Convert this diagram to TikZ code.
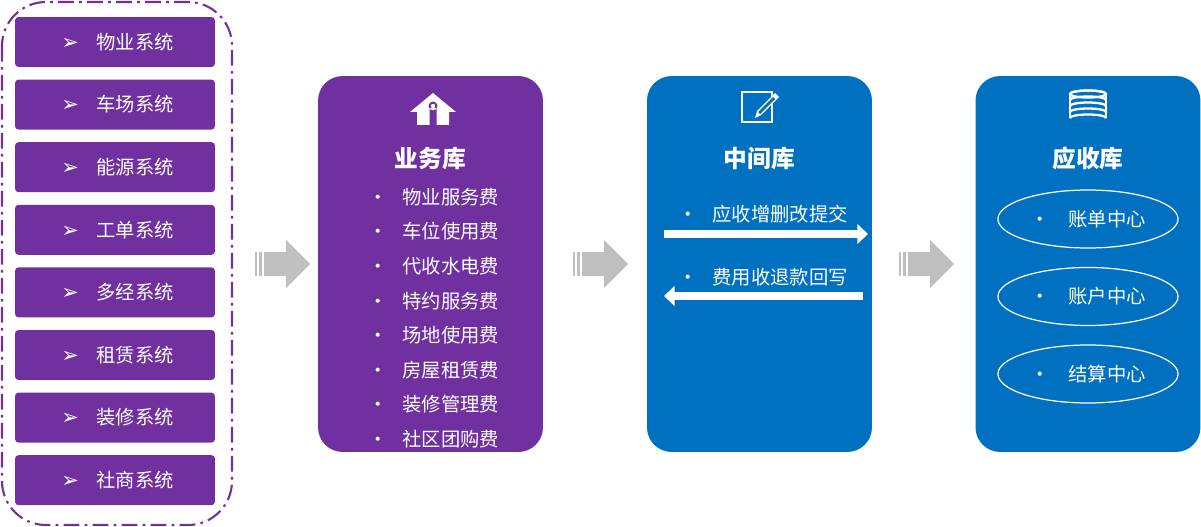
\documentclass[tikz,border=0pt]{standalone}
\usepackage{fontspec}
\setmainfont{Noto Sans CJK SC}
\newfontfamily\symf{DejaVu Sans}
\usetikzlibrary{positioning,shapes.geometric,arrows.meta}
\definecolor{purp}{HTML}{7030A0}
\definecolor{blu}{HTML}{0070C0}
\definecolor{gry}{HTML}{BFBFBF}
\tikzset{
  sys/.style={fill=purp,rounded corners=2pt,minimum width=4cm,minimum height=1cm,text=white,font=\fontsize{11}{13}\selectfont},
  db/.style={rounded corners=14pt,minimum width=4.5cm,minimum height=7.52cm},
  item/.style={text=white,font=\fontsize{11}{13}\selectfont,anchor=west},
  ttl/.style={text=white,font=\fontsize{13.5}{15}\selectfont\bfseries},
  ctr/.style={ellipse,draw=white,line width=0.7pt,minimum width=3.56cm,minimum height=1.16cm,text=white,font=\fontsize{11}{13}\selectfont},
  flow/.style={white,line width=4pt,-{Triangle[length=6pt,width=11pt]}}
}
\newcommand{\fatarrow}[1]{%
  \fill[gry] (#1)++(-55,-12) rectangle ++(2,24);
  \fill[gry] (#1)++(-51,-12) rectangle ++(3,24);
  \fill[gry] (#1)++(-46,-12) -- ++(22,0) -- ++(0,-12) -- ++(24,24) -- ++(-24,24) -- ++(0,-12) -- ++(-22,0) -- cycle;}
\begin{document}
\begin{tikzpicture}[x=0.02cm,y=-0.02cm]
  \useasboundingbox (0,0) rectangle (1201,527);
  % source systems
  \draw[purp,line width=1.2pt,dash pattern=on 9pt off 3pt on 1.5pt off 3pt,rounded corners=25pt] (2,2) rectangle (232,525);
  \foreach \n/\t [count=\i from 0] in {a/物业系统,b/车场系统,c/能源系统,d/工单系统,e/多经系统,f/租赁系统,g/装修系统,h/社商系统}
    \node[sys] (\n) at (115,{42+62.6*\i}) {\hspace{0.1cm}{\symf\fontsize{12}{13}\selectfont ➢}\hspace{0.35cm}\t};
  % flow arrows
  \coordinate (p1) at (310,264);
  \coordinate (p2) at (628,264);
  \coordinate (p3) at (954,264);
  \fatarrow{p1} \fatarrow{p2} \fatarrow{p3}
  % business db
  \node[db,fill=purp] (biz) at (430.5,264) {};
  \fill[white] (433,93) -- (410,112) -- (417,112) -- (417,125) -- (449,125) -- (449,112) -- (456,112) -- cycle;
  \fill[purp] (433,106) circle (4.5) (429.5,108) rectangle (436.5,125);
  \fill[white] (433,106) circle (2.2);
  \node[ttl] (bt) at (430.5,158) {业务库};
  \foreach \t [count=\i from 0] in {物业服务费,车位使用费,代收水电费,特约服务费,场地使用费,房屋租赁费,装修管理费,社区团购费}
    \node[item] (b\i) at (362,{197+34.6*\i}) {•\hspace{0.3cm}\t};
  % middle db
  \node[db,fill=blu] (mid) at (759.5,264) {};
  \draw[white,line width=1.6pt] (742,92) rectangle (772,122);
  \fill[white] (775,93) -- (779,97) -- (761,115) -- (755,118) -- (757,111) -- cycle;
  \fill[blu] (773,97) -- (775,99) -- (760,114) -- (758,112) -- cycle;
  \node[ttl] (mt) at (759.5,158) {中间库};
  \node[item] (m0) at (672,214) {•\hspace{0.3cm}应收增删改提交};
  \node[item] (m1) at (672,277) {•\hspace{0.3cm}费用收退款回写};
  \coordinate (m0l) at (664,234);
  \coordinate (m0r) at (868,234);
  \coordinate (m1l) at (664,296);
  \coordinate (m1r) at (863,296);
  \draw[flow] (m0l) -- (m0r);
  \draw[flow] (m1r) -- (m1l);
  % receivable db
  \node[db,fill=blu] (rec) at (1088,264) {};
  \foreach \k in {0,1,2,3,4}
    \draw[white,line width=1.3pt,fill=blu] (1070,{94+6*\k}) arc[start angle=180,end angle=360,x radius=18,y radius=3.5];
  \draw[white,line width=1.3pt] (1088,94) ellipse[x radius=18,y radius=3.5];
  \draw[white,line width=1.3pt] (1070,94) -- (1070,118) (1106,94) -- (1106,118);
  \node[ttl] (rt) at (1088,158) {应收库};
  \foreach \n/\t [count=\i from 0] in {r0/账单中心,r1/账户中心,r2/结算中心}
    \node[ctr] (\n) at (1088,{219+77.5*\i}) {•\hspace{0.38cm}\t};
\end{tikzpicture}
\end{document}
